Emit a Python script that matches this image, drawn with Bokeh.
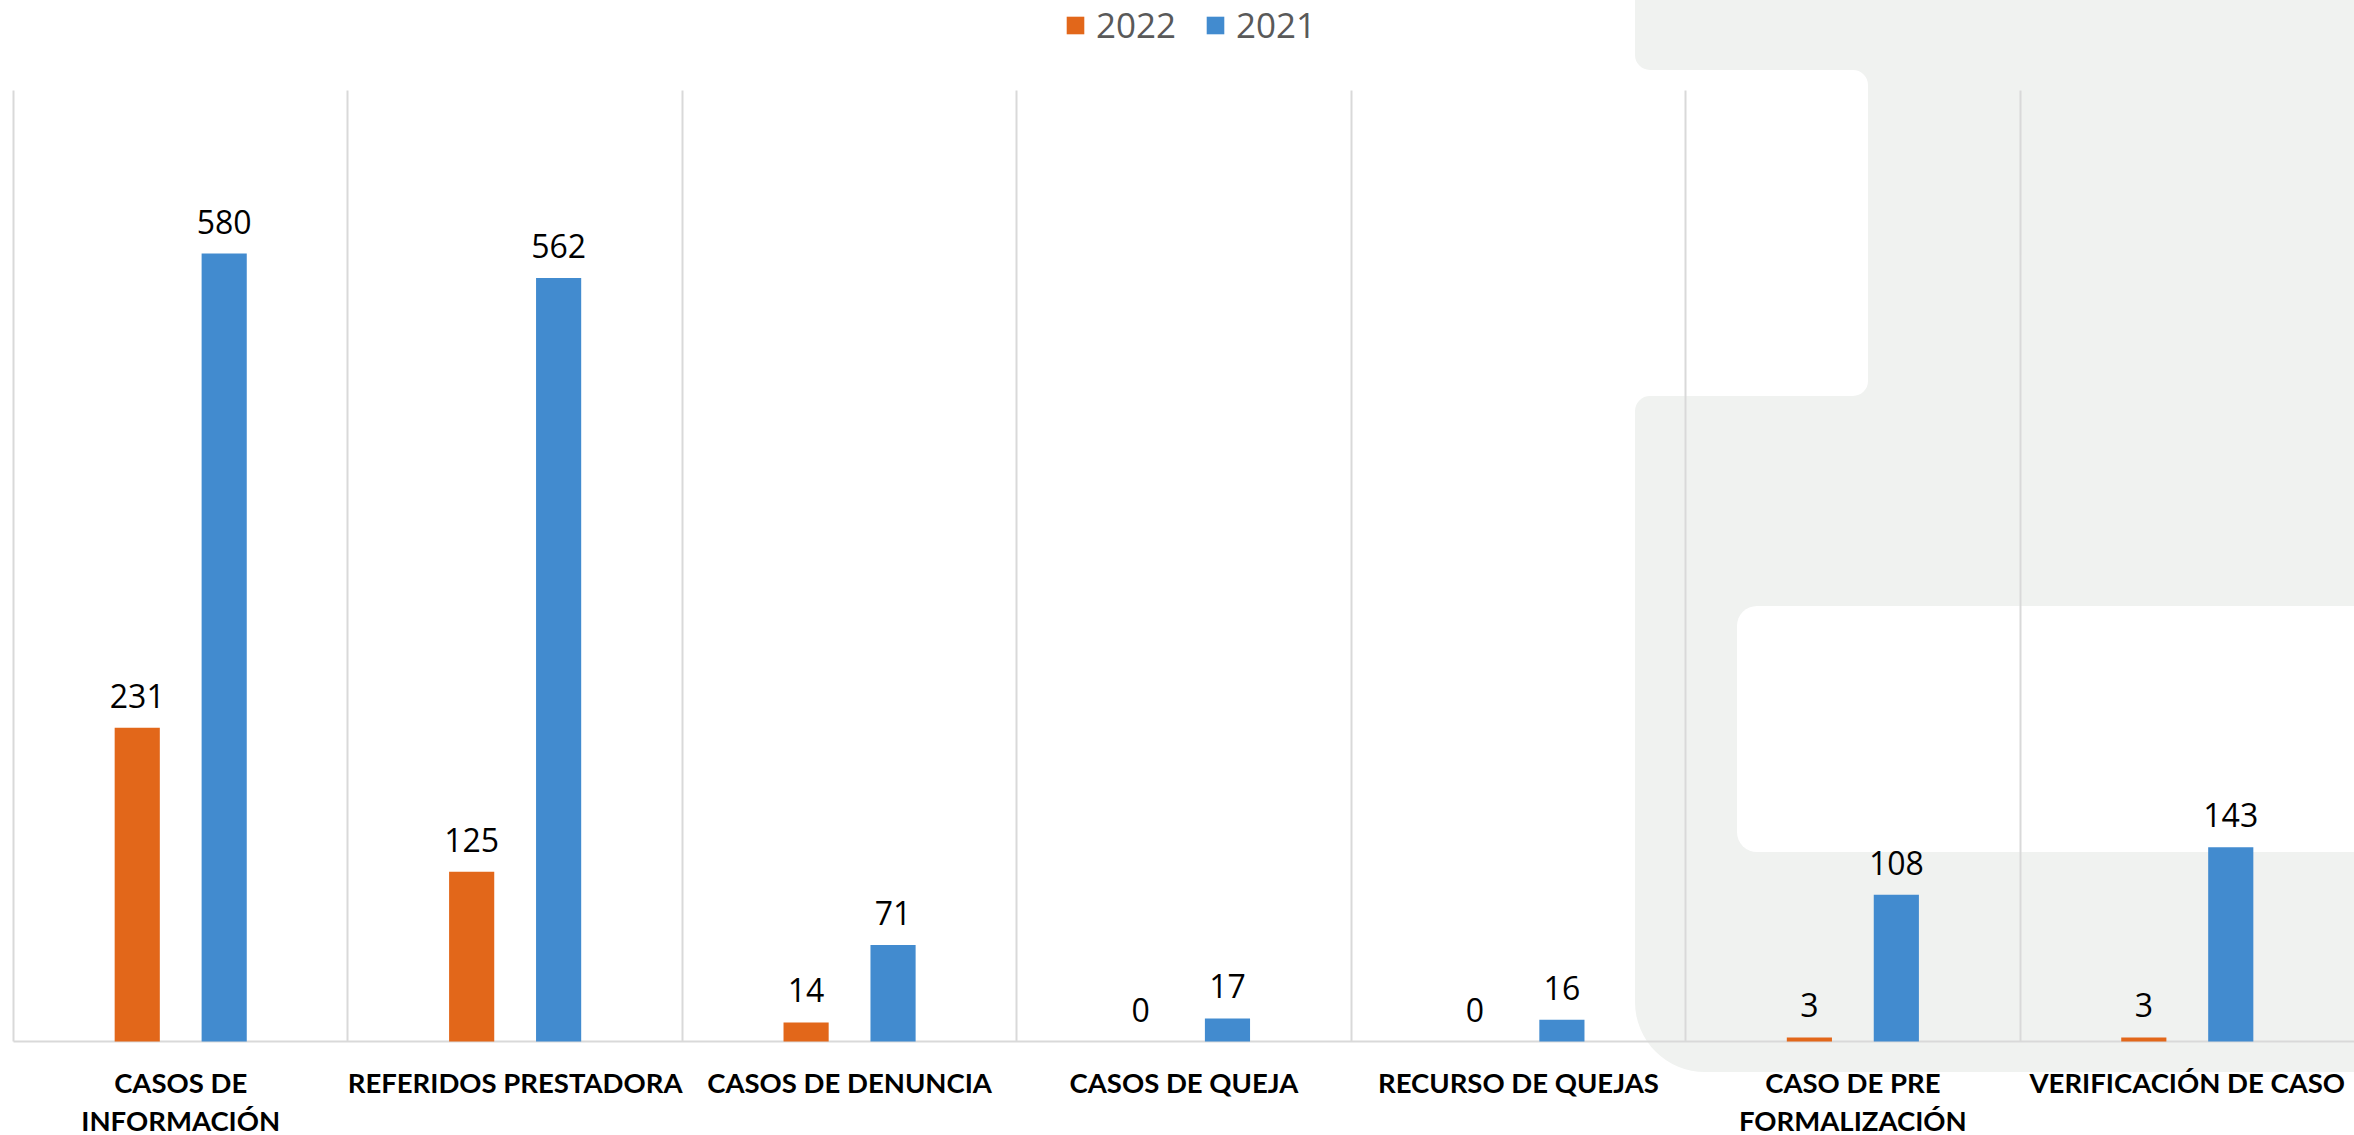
from urllib.parse import quote
from bokeh.plotting import figure
from bokeh.models import ColumnDataSource, LabelSet, FixedTicker, Range1d, Legend, LegendItem, Grid, Span
from bokeh.transform import dodge
from bokeh.core.properties import value
from bokeh.embed import file_html
from bokeh.resources import INLINE

categories = ["CASOS DE\nINFORMACIÓN", "REFERIDOS PRESTADORA", "CASOS DE DENUNCIA",
              "CASOS DE QUEJA", "RECURSO DE QUEJAS", "CASO DE PRE\nFORMALIZACIÓN",
              "VERIFICACIÓN DE CASO"]
values_2022 = [231, 125, 14, 0, 0, 3, 3]
values_2021 = [580, 562, 71, 17, 16, 108, 143]
series_names = ["2022", "2021"]

COL_2022 = "#E2671A"
COL_2021 = "#428BCF"
GRID = "#D9D9D9"

W, H = 2354, 1135
N = len(categories)
# layout (pixels): plot area left/right, top/baseline
PL, PR, PT, PB = 13, 2354, 90, 1041
Y_MAX = 700
cat_w = (PR - PL) / N
px_per_unit = (PB - PT) / Y_MAX

line1 = [c.split("\n")[0] for c in categories]
line2 = [c.split("\n")[1] if "\n" in c else "" for c in categories]

src = ColumnDataSource(dict(
    x=list(range(N)),
    l1=line1,
    l2=line2,
    v22=values_2022,
    v21=values_2021,
    t22=[str(v) for v in values_2022],
    t21=[str(v) for v in values_2021],
    y0=[0] * N,
))

# decorative watermark shape behind the chart (CSS background)
svg = (
    f"<svg xmlns='http://www.w3.org/2000/svg' width='{W}' height='{H}'>"
    "<path fill='rgb(240,242,240)' d='M 1635 -20 L 2400 -20 L 2400 1072 L 1705 1072 "
    "A 70 70 0 0 1 1635 1002 L 1635 411 A 15 15 0 0 1 1650 396 L 1853 396 "
    "A 15 15 0 0 0 1868 381 L 1868 85 A 15 15 0 0 0 1853 70 L 1650 70 "
    "A 15 15 0 0 1 1635 55 Z'/>"
    "<rect x='1737' y='606' width='800' height='246' rx='20' ry='20' fill='white'/>"
    "</svg>"
)
uri = "data:image/svg+xml;charset=utf-8," + quote(svg)

x_range = Range1d(-0.5 - PL / cat_w, N - 0.5 + (W - PR) / cat_w)
y_range = Range1d(-(H - PB) / px_per_unit, Y_MAX + PT / px_per_unit)

p = figure(width=W, height=H, output_backend="svg", toolbar_location=None,
           x_range=x_range, y_range=y_range,
           min_border_left=0, min_border_right=0, min_border_top=0, min_border_bottom=0)
p.styles = {"background-image": f'url("{uri}")', "background-repeat": "no-repeat",
            "background-size": f"{W}px {H}px"}
p.background_fill_color = None
p.border_fill_color = None
p.outline_line_color = None
p.xaxis.visible = False
p.yaxis.visible = False
p.xgrid.visible = False
p.ygrid.visible = False

has_cb = "cross_bounds" in Grid.properties()
bounds = [i - 0.5 for i in range(N + 1)]
if has_cb:
    vg = Grid(dimension=0, ticker=FixedTicker(ticks=bounds), grid_line_color=GRID,
              grid_line_width=2, cross_bounds=(0, Y_MAX))
    hg = Grid(dimension=1, ticker=FixedTicker(ticks=[0]), grid_line_color=GRID,
              grid_line_width=2, cross_bounds=(-0.5, N - 0.5))
    p.add_layout(vg)
    p.add_layout(hg)
else:
    p.segment(x0=bounds, x1=bounds, y0=[0] * len(bounds), y1=[Y_MAX] * len(bounds),
              line_color=GRID, line_width=2)
    p.add_layout(Span(location=0, dimension="width", line_color=GRID, line_width=2))

r22 = p.vbar(x=dodge("x", -0.13, range=p.x_range), top="v22", width=0.135, source=src,
             fill_color=COL_2022, line_color=None)
r21 = p.vbar(x=dodge("x", 0.13, range=p.x_range), top="v21", width=0.135, source=src,
             fill_color=COL_2021, line_color=None)

for col, off in (("22", -0.13), ("21", 0.13)):
    p.add_layout(LabelSet(x=dodge("x", off, range=p.x_range), y="v" + col, text="t" + col,
                          source=src, y_offset=20, text_align="center",
                          text_baseline="alphabetic", text_font=value("Open Sans"),
                          text_font_size="32px", text_color="#000000"))

for col, yoff in (("l1", -51), ("l2", -89)):
    p.add_layout(LabelSet(x="x", y="y0", text=col, source=src, y_offset=yoff,
                          text_align="center", text_baseline="alphabetic",
                          text_font=value("Lato"), text_font_style="bold",
                          text_font_size="27.5px", text_color="#000000"))

legend = Legend(items=[LegendItem(label=series_names[0], renderers=[r22]),
                       LegendItem(label=series_names[1], renderers=[r21])],
                orientation="horizontal", location=(1064, 1087))
legend.glyph_width = 22
legend.glyph_height = 22
legend.label_standoff = 10
legend.spacing = 28
legend.padding = 0
legend.margin = 0
legend.border_line_color = None
legend.background_fill_alpha = 0
legend.label_text_font = "Open Sans"
legend.label_text_font_size = "35px"
legend.label_text_color = "#595959"
p.add_layout(legend, "center")

open("out.html", "w").write(file_html(p, INLINE))
